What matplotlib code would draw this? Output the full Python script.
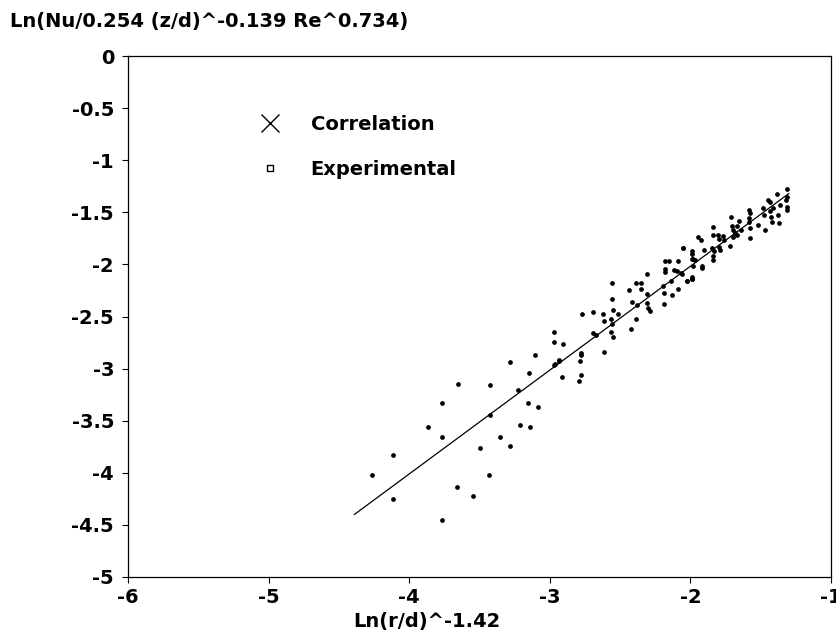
import matplotlib
matplotlib.use("Agg")
import matplotlib.pyplot as plt
from matplotlib.lines import Line2D

plt.rcParams['font.family'] = ['DejaVu Sans']
plt.rcParams['font.weight'] = 'bold'

# Correlation line (y = x approx)
corr_x = [-4.39, -1.30]
corr_y = [-4.40, -1.32]

# Experimental points
exp_x = [-4.267, -4.117, -4.117, -3.866, -3.765, -3.765, -3.767, -3.653, -3.658, -3.546,
         -3.496, -3.425, -3.425, -3.430, -3.356, -3.283, -3.285, -3.226, -3.210, -3.157,
         -3.150, -3.139, -3.086, -3.105, -2.970, -2.937, -2.915,
         -2.968, -2.968, -2.906, -2.963, -2.935, -2.790, -2.780, -2.787, -2.780, -2.780,
         -2.773, -2.693, -2.691, -2.674, -2.620, -2.615, -2.617, -2.567, -2.556, -2.556,
         -2.554, -2.556, -2.563, -2.554, -2.513, -2.435, -2.418, -2.420, -2.385, -2.387,
         -2.382, -2.354, -2.351, -2.307, -2.307, -2.311, -2.304, -2.285, -2.197, -2.188,
         -2.188, -2.183, -2.183, -2.181, -2.155, -2.136, -2.129, -2.088, -2.086, -2.117,
         -2.095, -2.067, -2.053, -2.026, -1.991, -1.987, -1.987, -1.987, -1.980, -1.944,
         -2.055, -1.991, -1.967, -1.980, -1.918, -1.918, -2.062, -2.022, -1.987, -1.927,
         -1.903, -1.849, -1.837, -1.842, -1.837, -1.842, -1.830, -1.802, -1.795, -1.795,
         -1.790, -1.771, -1.759, -1.718, -1.713, -1.706, -1.695, -1.683, -1.695, -1.671,
         -1.667, -1.654, -1.640, -1.581, -1.576, -1.581, -1.581, -1.576, -1.576, -1.522,
         -1.481, -1.477, -1.470, -1.446, -1.434, -1.434, -1.429, -1.422, -1.410, -1.382,
         -1.375, -1.370, -1.363, -1.311, -1.315, -1.315, -1.311, -1.320]
exp_y = [-4.018, -3.829, -4.251, -3.564, -3.327, -3.653, -4.453, -3.145, -4.139, -4.223,
         -3.762, -3.154, -3.449, -4.024, -3.653, -2.937, -3.743, -3.205, -3.538, -3.327,
         -3.045, -3.564, -3.365, -2.869, -2.962, -2.924, -3.077,
         -2.652, -2.742, -2.761, -2.956, -2.921, -3.122, -3.058, -2.930, -2.847, -2.873,
         -2.473, -2.454, -2.655, -2.678, -2.473, -2.543, -2.843, -2.524, -2.178, -2.329,
         -2.434, -2.575, -2.649, -2.694, -2.473, -2.246, -2.364, -2.623, -2.182, -2.524,
         -2.387, -2.182, -2.239, -2.092, -2.284, -2.374, -2.422, -2.444, -2.207, -2.278,
         -2.380, -2.070, -2.044, -1.965, -1.965, -2.163, -2.290, -1.971, -2.239, -2.054,
         -2.063, -2.080, -1.846, -2.156, -2.124, -2.143, -1.868, -1.903, -1.951, -1.734,
         -1.839, -1.951, -1.958, -2.015, -2.012, -2.037, -2.092, -2.159, -2.143, -1.766,
         -1.862, -1.846, -1.644, -1.718, -1.916, -1.958, -1.871, -1.718, -1.756, -1.830,
         -1.862, -1.727, -1.766, -1.820, -1.548, -1.631, -1.670, -1.702, -1.734, -1.718,
         -1.631, -1.584, -1.670, -1.478, -1.504, -1.552, -1.590, -1.654, -1.750, -1.622,
         -1.462, -1.526, -1.670, -1.382, -1.398, -1.485, -1.548, -1.590, -1.462, -1.324,
         -1.526, -1.606, -1.430, -1.276, -1.350, -1.446, -1.478, -1.382]

x_ticks = [-6, -5, -4, -3, -2, -1]
y_ticks = [0, -0.5, -1, -1.5, -2, -2.5, -3, -3.5, -4, -4.5, -5]
y_tick_labels = ['0', '-0.5', '-1', '-1.5', '-2', '-2.5', '-3', '-3.5', '-4', '-4.5', '-5']
x_tick_labels = ['-6', '-5', '-4', '-3', '-2', '-1']

y_title = "Ln(Nu/0.254 (z/d)^-0.139 Re^0.734)"
x_title = "Ln(r/d)^-1.42"

fig = plt.figure(figsize=(8.36, 6.43), dpi=100)
W, H = 836, 643
left, right, top, bottom = 128, 831, 56, 577
ax = fig.add_axes([left / W, 1 - bottom / H, (right - left) / W, (bottom - top) / H])

ax.plot(corr_x, corr_y, color='black', lw=0.9)
ax.plot(exp_x, exp_y, linestyle='none', marker='o', markersize=2.4, color='black')

ax.set_xlim(-6, -1)
ax.set_ylim(-5, 0)
ax.set_xticks(x_ticks)
ax.set_xticklabels(x_tick_labels)
ax.set_yticks(y_ticks)
ax.set_yticklabels(y_tick_labels)
ax.tick_params(axis='both', direction='out', length=4, width=0.8, labelsize=14)
ax.tick_params(axis='x', pad=4)
ax.tick_params(axis='y', pad=6)
for lab in ax.get_xticklabels() + ax.get_yticklabels():
    lab.set_fontweight('bold')
for s in ax.spines.values():
    s.set_linewidth(0.9)

handles = [Line2D([], [], linestyle='none', marker='x', markersize=13, markeredgewidth=1.0, color='black'),
           Line2D([], [], linestyle='none', marker='s', markersize=4, markerfacecolor='none',
                  markeredgewidth=1.0, color='black')]
leg = ax.legend(handles, ['Correlation', 'Experimental'], loc='upper left',
                bbox_to_anchor=((258 - left) / (right - left), 1 - (115 - top) / (bottom - top)),
                frameon=False, prop={'size': 14, 'weight': 'bold'}, handlelength=1.2,
                handletextpad=1.5, labelspacing=1.35, borderpad=0, borderaxespad=0)

fig.text(10 / W, 1 - 27 / H, y_title, fontsize=14, fontweight='bold', ha='left', va='baseline')
fig.text(353 / W, 1 - 627 / H, x_title, fontsize=14, fontweight='bold', ha='left', va='baseline')

fig.savefig('out.png', dpi=100)
